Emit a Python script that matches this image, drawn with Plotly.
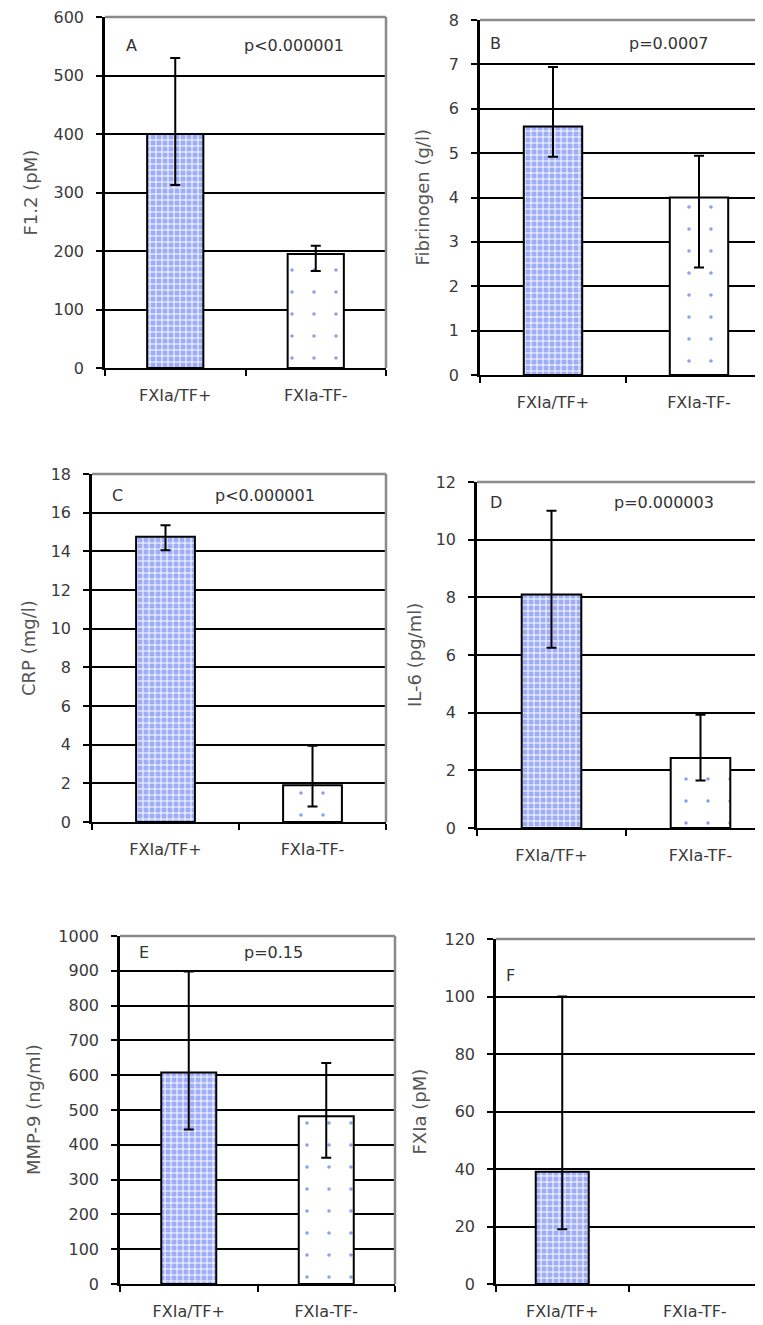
import plotly.graph_objects as go

# page viewport 763x1325; the page body adds an 8px offset, so the figure is sized to fit
OFF = 8
PAGE_W, PAGE_H = 763, 1325
W, H = PAGE_W - OFF, PAGE_H - OFF

categories = ["FXIa/TF+", "FXIa-TF-"]

f12_mean = [400, 195]
f12_low = [313, 166]
f12_high = [530, 209]

fib_mean = [5.6, 4.0]
fib_low = [4.92, 2.42]
fib_high = [6.94, 4.94]

crp_mean = [14.75, 1.9]
crp_low = [14.05, 0.8]
crp_high = [15.35, 3.95]

il6_mean = [8.1, 2.43]
il6_low = [6.25, 1.65]
il6_high = [11.0, 3.93]

mmp_mean = [608, 482]
mmp_low = [444, 363]
mmp_high = [898, 635]

fxia_mean = [39, None]
fxia_low = [19, None]
fxia_high = [100, None]

panel_letters = ["A", "B", "C", "D", "E", "F"]
p_values = ["p<0.000001", "p=0.0007", "p<0.000001", "p=0.000003", "p=0.15", ""]
y_titles = ["F1.2 (pM)", "Fibrinogen (g/l)", "CRP (mg/l)", "IL-6 (pg/ml)", "MMP-9 (ng/ml)", "FXIa (pM)"]
y_max = [600, 8, 18, 12, 1000, 120]
y_step = [100, 1, 2, 2, 100, 20]

series = [
    (f12_mean, f12_low, f12_high),
    (fib_mean, fib_low, fib_high),
    (crp_mean, crp_low, crp_high),
    (il6_mean, il6_low, il6_high),
    (mmp_mean, mmp_low, mmp_high),
    (fxia_mean, fxia_low, fxia_high),
]

# page-pixel layout: plot box, x-range end, right border, title x, letter x/y, p-value x/y (offset from top)
panels = [
    dict(l=105, r=386, t=17, b=368, xr=1.5, border=True, tx=30, lx=124, ly=28, px=242, py=28),
    dict(l=480, r=763, t=20, b=375, xr=-0.5 + (763 - 480) / 146, border=False, tx=422, lx=488, ly=23, px=627, py=23),
    dict(l=92, r=386, t=474, b=822, xr=1.5, border=True, tx=28, lx=110, ly=21, px=213, py=21),
    dict(l=477, r=763, t=482, b=828, xr=-0.5 + (763 - 477) / 149, border=False, tx=414, lx=488, ly=21, px=612, py=21),
    dict(l=120, r=395, t=936, b=1284, xr=1.5, border=True, tx=33, lx=137, ly=17, px=242, py=17),
    dict(l=496, r=761, t=939, b=1284, xr=1.5, border=True, tx=419, lx=504, ly=36, px=600, py=36),
]


def fx(px):
    return min(1.0, max(0.0, (px - OFF) / W))


def fy(py):
    return min(1.0, max(0.0, 1 - (py - OFF) / H))


FONT = "DejaVu Sans"
TICK_FONT = dict(family=FONT, size=16, color="#3a3a3a")
GRAY = "#8a8a8a"

bar_styles = [
    dict(color="#9fadf7", line=dict(color="black", width=2),
         pattern=dict(shape="+", fgcolor="white", bgcolor="#9fadf7", size=6,
                      solidity=0.3, fillmode="replace")),
    dict(color="white", line=dict(color="black", width=2),
         pattern=dict(shape=".", fgcolor="#8d9df3", bgcolor="white", size=22,
                      solidity=0.02, fillmode="replace")),
]

fig = go.Figure()

for i, (p, (mean, low, high)) in enumerate(zip(panels, series)):
    n = "" if i == 0 else str(i + 1)
    xa, ya = "x" + n, "y" + n
    for k in range(len(categories)):
        if mean[k] is None:
            continue
        fig.add_trace(go.Bar(
            x=[categories[k]], y=[mean[k]], xaxis=xa, yaxis=ya, width=0.4,
            marker=bar_styles[k],
            error_y=dict(type="data", symmetric=False, array=[high[k] - mean[k]],
                         arrayminus=[mean[k] - low[k]],
                         color="black", thickness=2, width=5),
            showlegend=False, hoverinfo="skip",
        ))
    fig.layout["xaxis" + n] = dict(
        domain=[fx(p["l"]), fx(p["r"])], anchor=ya, type="category", range=[-0.5, p["xr"]],
        categoryorder="array", categoryarray=categories, automargin=False,
        showline=True, linecolor="black", linewidth=2,
        ticks="outside", tickson="boundaries", ticklen=6, tickwidth=2, tickcolor="black",
        tickfont=TICK_FONT, ticklabelstandoff=12, ticklabeloverflow="allow",
        showgrid=False, fixedrange=True,
    )
    fig.layout["yaxis" + n] = dict(
        domain=[fy(p["b"]), fy(p["t"])], anchor=xa, range=[0, y_max[i]], dtick=y_step[i], tick0=0,
        automargin=False,
        showline=True, linecolor="black", linewidth=2.5,
        ticks="outside", ticklen=6, tickwidth=2, tickcolor="black",
        tickfont=TICK_FONT, ticklabelstandoff=9, ticklabeloverflow="allow",
        showgrid=True, gridcolor="black", gridwidth=2, zeroline=False, fixedrange=True,
    )
    fig.add_shape(type="line", xref=xa + " domain", yref=ya + " domain",
                  x0=0, x1=1, y0=1, y1=1, line=dict(color=GRAY, width=2.5), layer="above")
    if p["border"]:
        fig.add_shape(type="line", xref=xa + " domain", yref=ya + " domain",
                      x0=1, x1=1, y0=0, y1=1, line=dict(color=GRAY, width=2.5), layer="above")
    fig.add_annotation(text=y_titles[i], xref="paper", yref="paper",
                       x=fx(p["tx"]), y=fy((p["t"] + p["b"]) / 2),
                       textangle=-90, showarrow=False, xanchor="center", yanchor="middle",
                       font=dict(family=FONT, size=18, color="#555"))
    fig.add_annotation(text=panel_letters[i], xref="paper", yref="paper",
                       x=fx(p["lx"]), y=fy(p["t"] + p["ly"]),
                       showarrow=False, xanchor="left", yanchor="middle",
                       font=dict(family=FONT, size=16, color="#333"))
    if p_values[i]:
        fig.add_annotation(text=p_values[i], xref="paper", yref="paper",
                           x=fx(p["px"]), y=fy(p["t"] + p["py"]),
                           showarrow=False, xanchor="left", yanchor="middle",
                           font=dict(family=FONT, size=16, color="#333"))

fig.update_layout(
    width=W, height=H, margin=dict(l=0, r=0, t=0, b=0, autoexpand=False),
    paper_bgcolor="white", plot_bgcolor="white", barmode="overlay",
)

fig.write_html("out.html")
